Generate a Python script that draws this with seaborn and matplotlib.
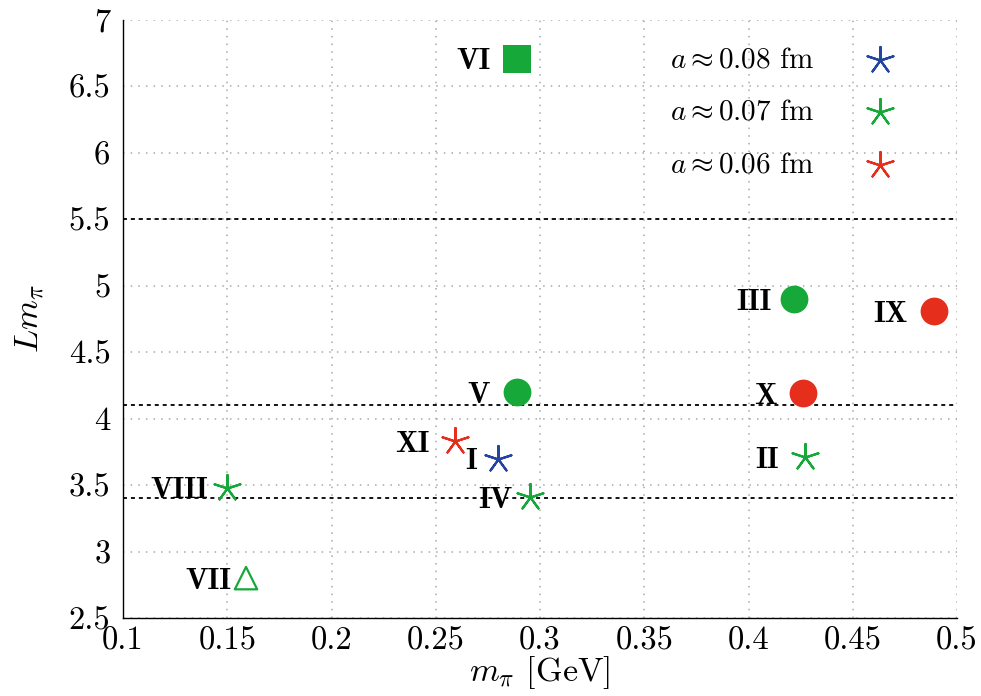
import numpy as np
import pandas as pd
import matplotlib
matplotlib.use("Agg")
import matplotlib.pyplot as plt
import seaborn as sns
from matplotlib.ticker import FixedLocator, FuncFormatter

# ---------------- data ----------------
labels = ["I", "II", "III", "IV", "V", "VI", "VII", "VIII", "IX", "X", "XI"]
m_pi = [0.280, 0.427, 0.422, 0.295, 0.289, 0.289, 0.159, 0.150, 0.489, 0.426, 0.259]
L_mpi = [3.70, 3.71, 4.90, 3.41, 4.20, 6.71, 2.80, 3.48, 4.81, 4.19, 3.83]
spacing = ["0.08", "0.07", "0.07", "0.07", "0.07", "0.07", "0.07", "0.07", "0.06", "0.06", "0.06"]
shape = ["star", "star", "circle", "star", "circle", "square", "triangle", "star",
         "circle", "circle", "star"]
cut_lines = [5.5, 4.1, 3.4]
x_ticks = [0.1, 0.15, 0.2, 0.25, 0.3, 0.35, 0.4, 0.45, 0.5]
y_ticks = [2.5, 3, 3.5, 4, 4.5, 5, 5.5, 6, 6.5, 7]
legend_order = ["0.08", "0.07", "0.06"]

# ---------------- style ----------------
colors = {"0.08": "#2345a0", "0.07": "#17a83a", "0.06": "#e52f1c"}
markers = {"star": (5, 2, 0), "circle": "o", "square": "s", "triangle": "^"}
sizes = {"star": 380, "circle": 400, "square": 400, "triangle": 260}
# label offset (pixels) of right edge of roman numeral from marker centre
label_dx = {"I": -21, "II": -26, "III": -23, "IV": -17, "V": -27, "VI": -26,
            "VII": -15, "VIII": -19, "IX": -26, "X": -26, "XI": -25}

sns.set_style("white")
plt.rcParams["font.family"] = ["cmr10", "DejaVu Serif"]
plt.rcParams["mathtext.fontset"] = "cm"
plt.rcParams["axes.formatter.use_mathtext"] = True
plt.rcParams["axes.unicode_minus"] = False
for k in ["text.color", "axes.labelcolor", "xtick.color", "ytick.color",
          "xtick.labelcolor", "ytick.labelcolor"]:
    plt.rcParams[k] = "black"

df = pd.DataFrame({"label": labels, "m_pi": m_pi, "L_mpi": L_mpi,
                   "spacing": spacing, "shape": shape})

fig = plt.figure(figsize=(9.81, 6.96), dpi=100)
ax = fig.add_axes([123 / 981, 1 - 618 / 696, (957 - 123) / 981, (618 - 20) / 696])

# horizontal cut lines
for y in cut_lines:
    ax.axhline(y, color="black", linestyle=(0, (2.2, 2.2)), linewidth=1.3, zorder=1)

# stars (legend entries)
for sp in legend_order:
    sub = df[(df["shape"] == "star") & (df["spacing"] == sp)]
    sns.scatterplot(data=sub, x="m_pi", y="L_mpi", ax=ax, marker=markers["star"],
                    s=sizes["star"], color=colors[sp], linewidth=1.6,
                    label=rf"$a \approx {sp}$ fm", zorder=3)

# other shapes
for shp in ["circle", "square"]:
    for sp in legend_order:
        sub = df[(df["shape"] == shp) & (df["spacing"] == sp)]
        if len(sub) == 0:
            continue
        sns.scatterplot(data=sub, x="m_pi", y="L_mpi", ax=ax, marker=markers[shp],
                        s=sizes[shp], color=colors[sp], edgecolor=colors[sp],
                        linewidth=0, legend=False, zorder=3)

sub = df[df["shape"] == "triangle"]
sns.scatterplot(data=sub, x="m_pi", y="L_mpi", ax=ax, marker="^", s=sizes["triangle"],
                facecolor="none", edgecolor=colors["0.07"], linewidth=1.6,
                legend=False, zorder=3)

# roman numeral labels
for _, r in df.iterrows():
    ax.annotate(r["label"], (r["m_pi"], r["L_mpi"]),
                xytext=(label_dx[r["label"]], 0), textcoords="offset pixels",
                ha="right", va="center_baseline", fontsize=21.5, family="cmb10",
                color="black", zorder=4)

ax.set_xlim(0.1, 0.5)
ax.set_ylim(2.5, 7)
ax.xaxis.set_major_locator(FixedLocator(x_ticks))
ax.yaxis.set_major_locator(FixedLocator(y_ticks))
fmt = FuncFormatter(lambda v, p: f"{v:g}")
ax.xaxis.set_major_formatter(fmt)
ax.yaxis.set_major_formatter(fmt)
ax.tick_params(direction="in", length=9, width=1, labelsize=23.5, colors="black")
ax.tick_params(axis="x", pad=6)
ax.tick_params(axis="y", pad=9)

ax.grid(True, color="#a8a8a8", linestyle=(0, (1, 4)), linewidth=1.1)
ax.set_axisbelow(True)
sns.despine(ax=ax)
for s in ["left", "bottom"]:
    ax.spines[s].set_color("black")
    ax.spines[s].set_linewidth(1.0)

ax.set_xlabel(r"$m_\pi$ [GeV]", fontsize=24.5, labelpad=-1)
ax.set_ylabel(r"$Lm_\pi$", fontsize=24.5, labelpad=16)

ax.legend(loc="upper left", bbox_to_anchor=(0.656, 0.955), frameon=False,
          markerfirst=False, fontsize=21, handlelength=2.0, handletextpad=1.25,
          labelspacing=0.9, borderpad=0, borderaxespad=0, scatterpoints=1)

fig.savefig("out.png", dpi=100)
